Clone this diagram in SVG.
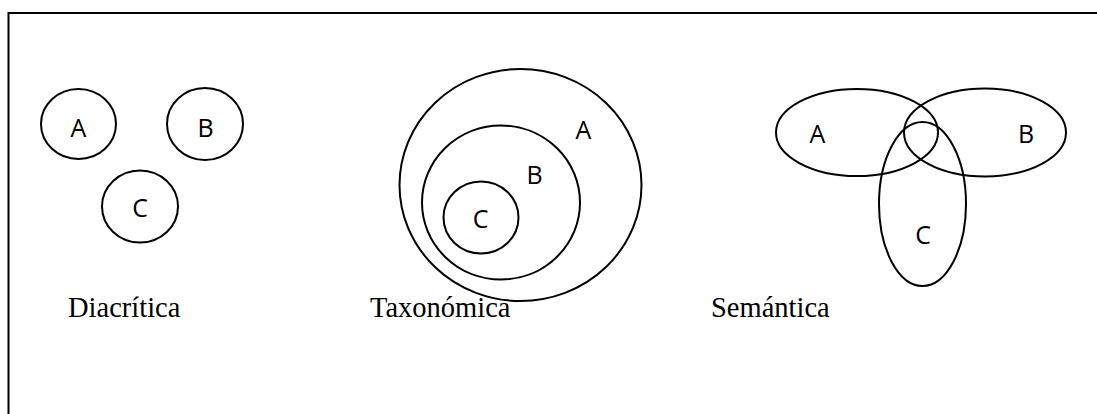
<svg xmlns="http://www.w3.org/2000/svg" width="1097" height="414" viewBox="0 0 1097 414">
<style>
.s{fill:none;stroke:#000;stroke-width:2}
.l{font-family:"Open Sans","Liberation Sans",sans-serif;font-size:25px;fill:#000;text-anchor:middle}
.t{font-family:"Liberation Serif","Times New Roman",serif;font-size:28.5px;fill:#000}
</style>
<rect width="1097" height="414" fill="#fff"/>
<g id="frame">
<polyline class="s" points="8.5,414 8.5,13 1097,13"/>
</g>
<g id="diacritica">
<g id="d-A"><ellipse class="s" cx="78.5" cy="124" rx="37.5" ry="35"/><text class="l" x="78.5" y="136.5">A</text></g>
<g id="d-B"><ellipse class="s" cx="205" cy="124" rx="38" ry="36"/><text class="l" x="205.5" y="136.5">B</text></g>
<g id="d-C"><ellipse class="s" cx="140" cy="206.5" rx="38" ry="36"/><text class="l" x="140" y="217">C</text></g>
<text class="t" x="68" y="317">Diacrítica</text>
</g>
<g id="taxonomica">
<g id="t-A"><ellipse class="s" cx="520.5" cy="185" rx="121" ry="116"/><text class="l" x="583.5" y="139">A</text></g>
<g id="t-B"><ellipse class="s" cx="501" cy="202.5" rx="79" ry="77"/><text class="l" x="534.5" y="184">B</text></g>
<g id="t-C"><ellipse class="s" cx="481" cy="217.5" rx="37.5" ry="36"/><text class="l" x="480.5" y="228">C</text></g>
<text class="t" x="370" y="317">Taxonómica</text>
</g>
<g id="semantica">
<g id="s-A"><ellipse class="s" cx="857" cy="132.5" rx="81" ry="43.5"/><text class="l" x="817.5" y="143">A</text></g>
<g id="s-B"><ellipse class="s" cx="985" cy="132.5" rx="81" ry="44"/><text class="l" x="1026" y="143">B</text></g>
<g id="s-C"><ellipse class="s" cx="922.5" cy="204" rx="43.5" ry="82"/><text class="l" x="923" y="244">C</text></g>
<text class="t" x="711" y="317">Semántica</text>
</g>
<g id="connectors"/>
</svg>
